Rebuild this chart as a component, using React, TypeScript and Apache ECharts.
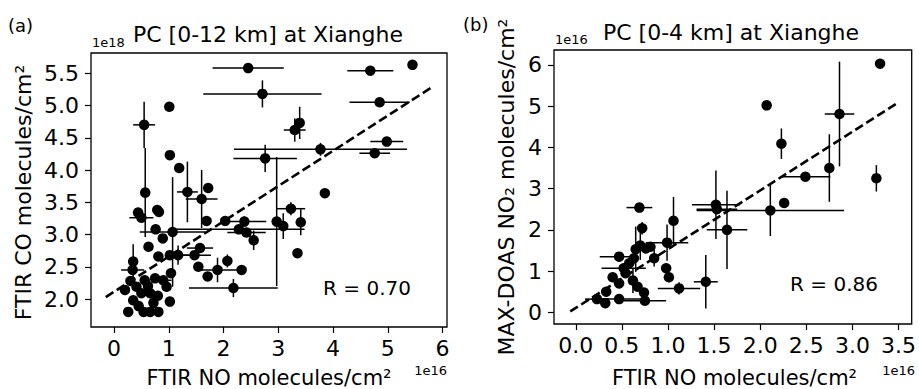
import React, { useEffect, useRef } from "react";
import * as echarts from "echarts";

// ---------- Panel (a): PC [0-12 km] ----------
const aNO = [2.45, 4.68, 5.45, 2.71, 4.85, 1.01, 0.55, 3.39, 3.30, 4.98, 4.76, 3.77, 2.76, 1.02, 1.19, 3.85, 1.34, 1.72, 1.60, 0.57, 0.44, 0.50, 0.79, 0.82, 1.69, 2.03, 2.38, 2.28, 2.42, 2.55, 2.97, 3.09, 3.23, 3.41, 3.35, 0.76, 1.07, 0.89, 0.63, 1.02, 1.17, 0.81, 1.47, 1.57, 1.54, 1.89, 1.71, 2.07, 2.33, 2.18, 1.04, 1.02, 0.35, 0.34, 0.20, 0.26, 0.54, 0.66, 0.81, 0.35, 0.41, 0.56, 0.75, 0.90, 0.96, 0.50, 0.66, 0.72, 0.45, 0.30, 0.62, 0.80];
const aCO = [5.58, 5.54, 5.63, 5.18, 5.05, 4.98, 4.70, 4.73, 4.62, 4.44, 4.26, 4.32, 4.18, 4.23, 4.03, 3.64, 3.66, 3.72, 3.55, 3.65, 3.34, 3.26, 3.38, 3.35, 3.21, 3.21, 3.20, 3.08, 3.03, 2.91, 3.20, 3.13, 3.40, 3.19, 2.71, 3.08, 3.04, 2.94, 2.81, 2.68, 2.68, 2.66, 2.68, 2.79, 2.50, 2.45, 2.35, 2.59, 2.45, 2.17, 2.40, 1.96, 2.58, 2.45, 2.14, 1.80, 1.80, 1.80, 1.80, 1.98, 2.19, 2.29, 2.32, 2.29, 2.19, 2.09, 2.09, 1.94, 1.89, 2.28, 2.20, 2.05];
const aNOerr = [0.65, 0.42, 0, 1.08, 0.55, 0, 0.20, 0, 0.20, 0.30, 0.28, 1.58, 0.58, 0, 0, 0.06, 0.19, 0, 0.29, 0, 0, 0.22, 0.05, 0, 0, 0, 0.40, 1.20, 0.35, 0, 0, 0, 0.26, 0.07, 0, 0, 0.60, 0, 0.05, 0, 0.20, 0, 0.30, 0.24, 0, 0.41, 0, 0, 0, 0.81, 0, 0, 0, 0.21, 0, 0, 0, 0, 0, 0, 0, 0, 0, 0.15, 0, 0, 0, 0, 0, 0, 0, 0];
const aCOerr = [0, 0, 0, 0.21, 0.04, 0, 0.36, 0.25, 0.18, 0.05, 0, 0.10, 0.21, 0, 0, 0.05, 0.47, 0, 0.45, 0.69, 0, 0, 0.06, 0, 0, 0, 0.08, 0, 0, 0.15, 1.00, 0.20, 0.10, 0.20, 0, 0, 0.85, 0, 0.06, 0, 0.15, 0, 0, 0, 0, 0.19, 0, 0.10, 0, 0.14, 0, 0, 0.27, 0, 0, 0, 0, 0, 0, 0, 0, 0, 0, 0, 0, 0, 0, 0, 0, 0, 0, 0];
const aFitX = [-0.15, 5.78];
const aFitY = [2.03, 5.27];
const aXTicks = [0, 1, 2, 3, 4, 5, 6];
const aYTicks = [2.0, 2.5, 3.0, 3.5, 4.0, 4.5, 5.0, 5.5];

// ---------- Panel (b): PC [0-4 km] ----------
const bNO = [3.30, 2.07, 2.86, 2.23, 2.75, 2.49, 3.26, 2.26, 2.11, 1.52, 1.53, 1.64, 1.06, 0.99, 0.69, 0.72, 0.98, 1.01, 1.12, 1.41, 0.47, 0.65, 0.76, 0.85, 0.63, 0.52, 0.58, 0.40, 0.47, 0.62, 0.67, 0.74, 0.75, 0.47, 0.33, 0.23, 0.32, 0.81, 0.54, 0.70];
const bNO2 = [6.03, 5.02, 4.81, 4.09, 3.50, 3.29, 3.25, 2.65, 2.47, 2.61, 2.50, 2.00, 2.22, 1.69, 2.54, 2.04, 1.07, 0.85, 0.58, 0.74, 1.35, 1.53, 1.55, 1.31, 1.31, 1.07, 1.19, 0.85, 0.70, 0.77, 0.62, 0.48, 0.28, 0.32, 0.50, 0.32, 0.22, 1.59, 0.95, 1.62];
const bNOerr = [0, 0, 0.16, 0, 0, 0.27, 0, 0, 0.80, 0.26, 0.22, 0.22, 0, 0.23, 0.14, 0, 0, 0, 0.23, 0.13, 0.21, 0, 0.10, 0, 0, 0.24, 0, 0, 0, 0, 0, 0, 0.23, 0.30, 0, 0.13, 0, 0, 0, 0];
const bNO2err = [0, 0, 1.27, 0.37, 0.82, 0, 0.32, 0.08, 0.62, 0.83, 0, 0.95, 0.58, 0.44, 0, 0.15, 0, 0.12, 0.15, 0.65, 0, 0.55, 0, 0.20, 0, 0, 0, 0, 0, 0.30, 0, 0, 0, 0, 0, 0, 0, 0, 0, 0.35];
const bFitX = [-0.06, 3.47];
const bFitY = [0.02, 5.05];
const bXTicks = [0.0, 0.5, 1.0, 1.5, 2.0, 2.5, 3.0, 3.5];
const bYTicks = [0, 1, 2, 3, 4, 5, 6];

const FONT = "DejaVu Sans";

function errRender(params: any, api: any) {
  const x = api.value(0), y = api.value(1), xe = api.value(2), ye = api.value(3);
  const children: any[] = [];
  const st = { stroke: "#000", lineWidth: 1.5 };
  if (xe > 0) {
    const p1 = api.coord([x - xe, y]);
    const p2 = api.coord([x + xe, y]);
    children.push({ type: "line", shape: { x1: p1[0], y1: p1[1], x2: p2[0], y2: p2[1] }, style: st });
  }
  if (ye > 0) {
    const p1 = api.coord([x, y - ye]);
    const p2 = api.coord([x, y + ye]);
    children.push({ type: "line", shape: { x1: p1[0], y1: p1[1], x2: p2[0], y2: p2[1] }, style: st });
  }
  return { type: "group", children };
}

function axisCommon(ticks: number[], fmt: (v: number) => string, isX: boolean) {
  return {
    type: "value",
    axisLine: { show: false, onZero: false },
    splitLine: { show: false },
    axisTick: { show: true, inside: false, length: 6, lineStyle: { color: "#000", width: 1.2 }, customValues: ticks },
    axisLabel: {
      show: true,
      customValues: ticks,
      color: "#000",
      fontSize: 22,
      fontFamily: FONT,
      margin: isX ? 10 : 12,
      formatter: (v: number) => fmt(v),
    },
  };
}

export default function App() {
  const ref = useRef<HTMLDivElement>(null);
  useEffect(() => {
    if (!ref.current) return;
    const chart = echarts.init(ref.current, null, { renderer: "svg" });

    const aErr = aNO.map((x, i) => [x, aCO[i], aNOerr[i], aCOerr[i]]);
    const aPts = aNO.map((x, i) => [x, aCO[i]]);
    const bErr = bNO.map((x, i) => [x, bNO2[i], bNOerr[i], bNO2err[i]]);
    const bPts = bNO.map((x, i) => [x, bNO2[i]]);
    const aFit = aFitX.map((x, i) => [x, aFitY[i]]);
    const bFit = bFitX.map((x, i) => [x, bFitY[i]]);

    const txt = (x: number, y: number, text: string, size: number, extra: any = {}) => ({
      type: "text",
      x,
      y,
      ...extra,
      style: { text, fontSize: size, fontFamily: FONT, fill: "#000", align: "center", verticalAlign: "middle", ...(extra.style || {}) },
    });

    const option: any = {
      animation: false,
      backgroundColor: "#fff",
      textStyle: { fontFamily: FONT },
      grid: [
        { left: 91, top: 53, width: 356, height: 274, show: true, borderColor: "#000", borderWidth: 1.3, backgroundColor: "transparent" },
        { left: 554, top: 50, width: 361, height: 274, show: true, borderColor: "#000", borderWidth: 1.3, backgroundColor: "transparent" },
      ],
      xAxis: [
        { gridIndex: 0, min: -0.42, max: 6.08, ...axisCommon(aXTicks, (v) => String(v), true) },
        { gridIndex: 1, min: -0.236, max: 3.643, ...axisCommon(bXTicks, (v) => v.toFixed(1), true) },
      ],
      yAxis: [
        { gridIndex: 0, min: 1.566, max: 5.814, ...axisCommon(aYTicks, (v) => v.toFixed(1), false) },
        { gridIndex: 1, min: -0.284, max: 6.363, ...axisCommon(bYTicks, (v) => String(v), false) },
      ],
      series: [
        { type: "custom", xAxisIndex: 0, yAxisIndex: 0, data: aErr, renderItem: errRender, encode: { x: 0, y: 1 }, z: 2, silent: true },
        { type: "scatter", xAxisIndex: 0, yAxisIndex: 0, data: aPts, symbol: "circle", symbolSize: 10.5, itemStyle: { color: "#000", opacity: 1 }, z: 3, silent: true },
        { type: "line", xAxisIndex: 0, yAxisIndex: 0, data: aFit, showSymbol: false, symbol: "none", lineStyle: { color: "#000", width: 2.6, type: [9, 4] }, z: 4, silent: true },
        { type: "custom", xAxisIndex: 1, yAxisIndex: 1, data: bErr, renderItem: errRender, encode: { x: 0, y: 1 }, z: 2, silent: true },
        { type: "scatter", xAxisIndex: 1, yAxisIndex: 1, data: bPts, symbol: "circle", symbolSize: 10.5, itemStyle: { color: "#000", opacity: 1 }, z: 3, silent: true },
        { type: "line", xAxisIndex: 1, yAxisIndex: 1, data: bFit, showSymbol: false, symbol: "none", lineStyle: { color: "#000", width: 2.6, type: [9, 4] }, z: 4, silent: true },
      ],
      graphic: [
        txt(8, 25.5, "(a)", 18, { style: { align: "left" } }),
        txt(463, 24.5, "(b)", 18, { style: { align: "left" } }),
        txt(268, 34.5, "PC [0-12 km] at Xianghe", 22),
        txt(731, 32.5, "PC [0-4 km] at Xianghe", 22),
        txt(92, 42, "1e18", 13, { style: { align: "left" } }),
        txt(555, 39, "1e16", 13, { style: { align: "left" } }),
        txt(23, 192.5, "FTIR CO molecules/cm²", 22, { rotation: Math.PI / 2 }),
        txt(506, 187, "MAX-DOAS NO₂ molecules/cm²", 22, { rotation: Math.PI / 2 }),
        txt(269, 377.5, "FTIR NO molecules/cm²", 21),
        txt(734.5, 377.5, "FTIR NO molecules/cm²", 21),
        txt(447, 370, "1e16", 13, { style: { align: "right" } }),
        txt(915, 370, "1e16", 13, { style: { align: "right" } }),
        txt(367, 288, "R = 0.70", 20),
        txt(834, 283.5, "R = 0.86", 20),
      ],
    };
    chart.setOption(option);
    return () => chart.dispose();
  }, []);
  return <div ref={ref} style={{ position: "absolute", left: 0, top: 0, width: 919, height: 389 }} />;
}
